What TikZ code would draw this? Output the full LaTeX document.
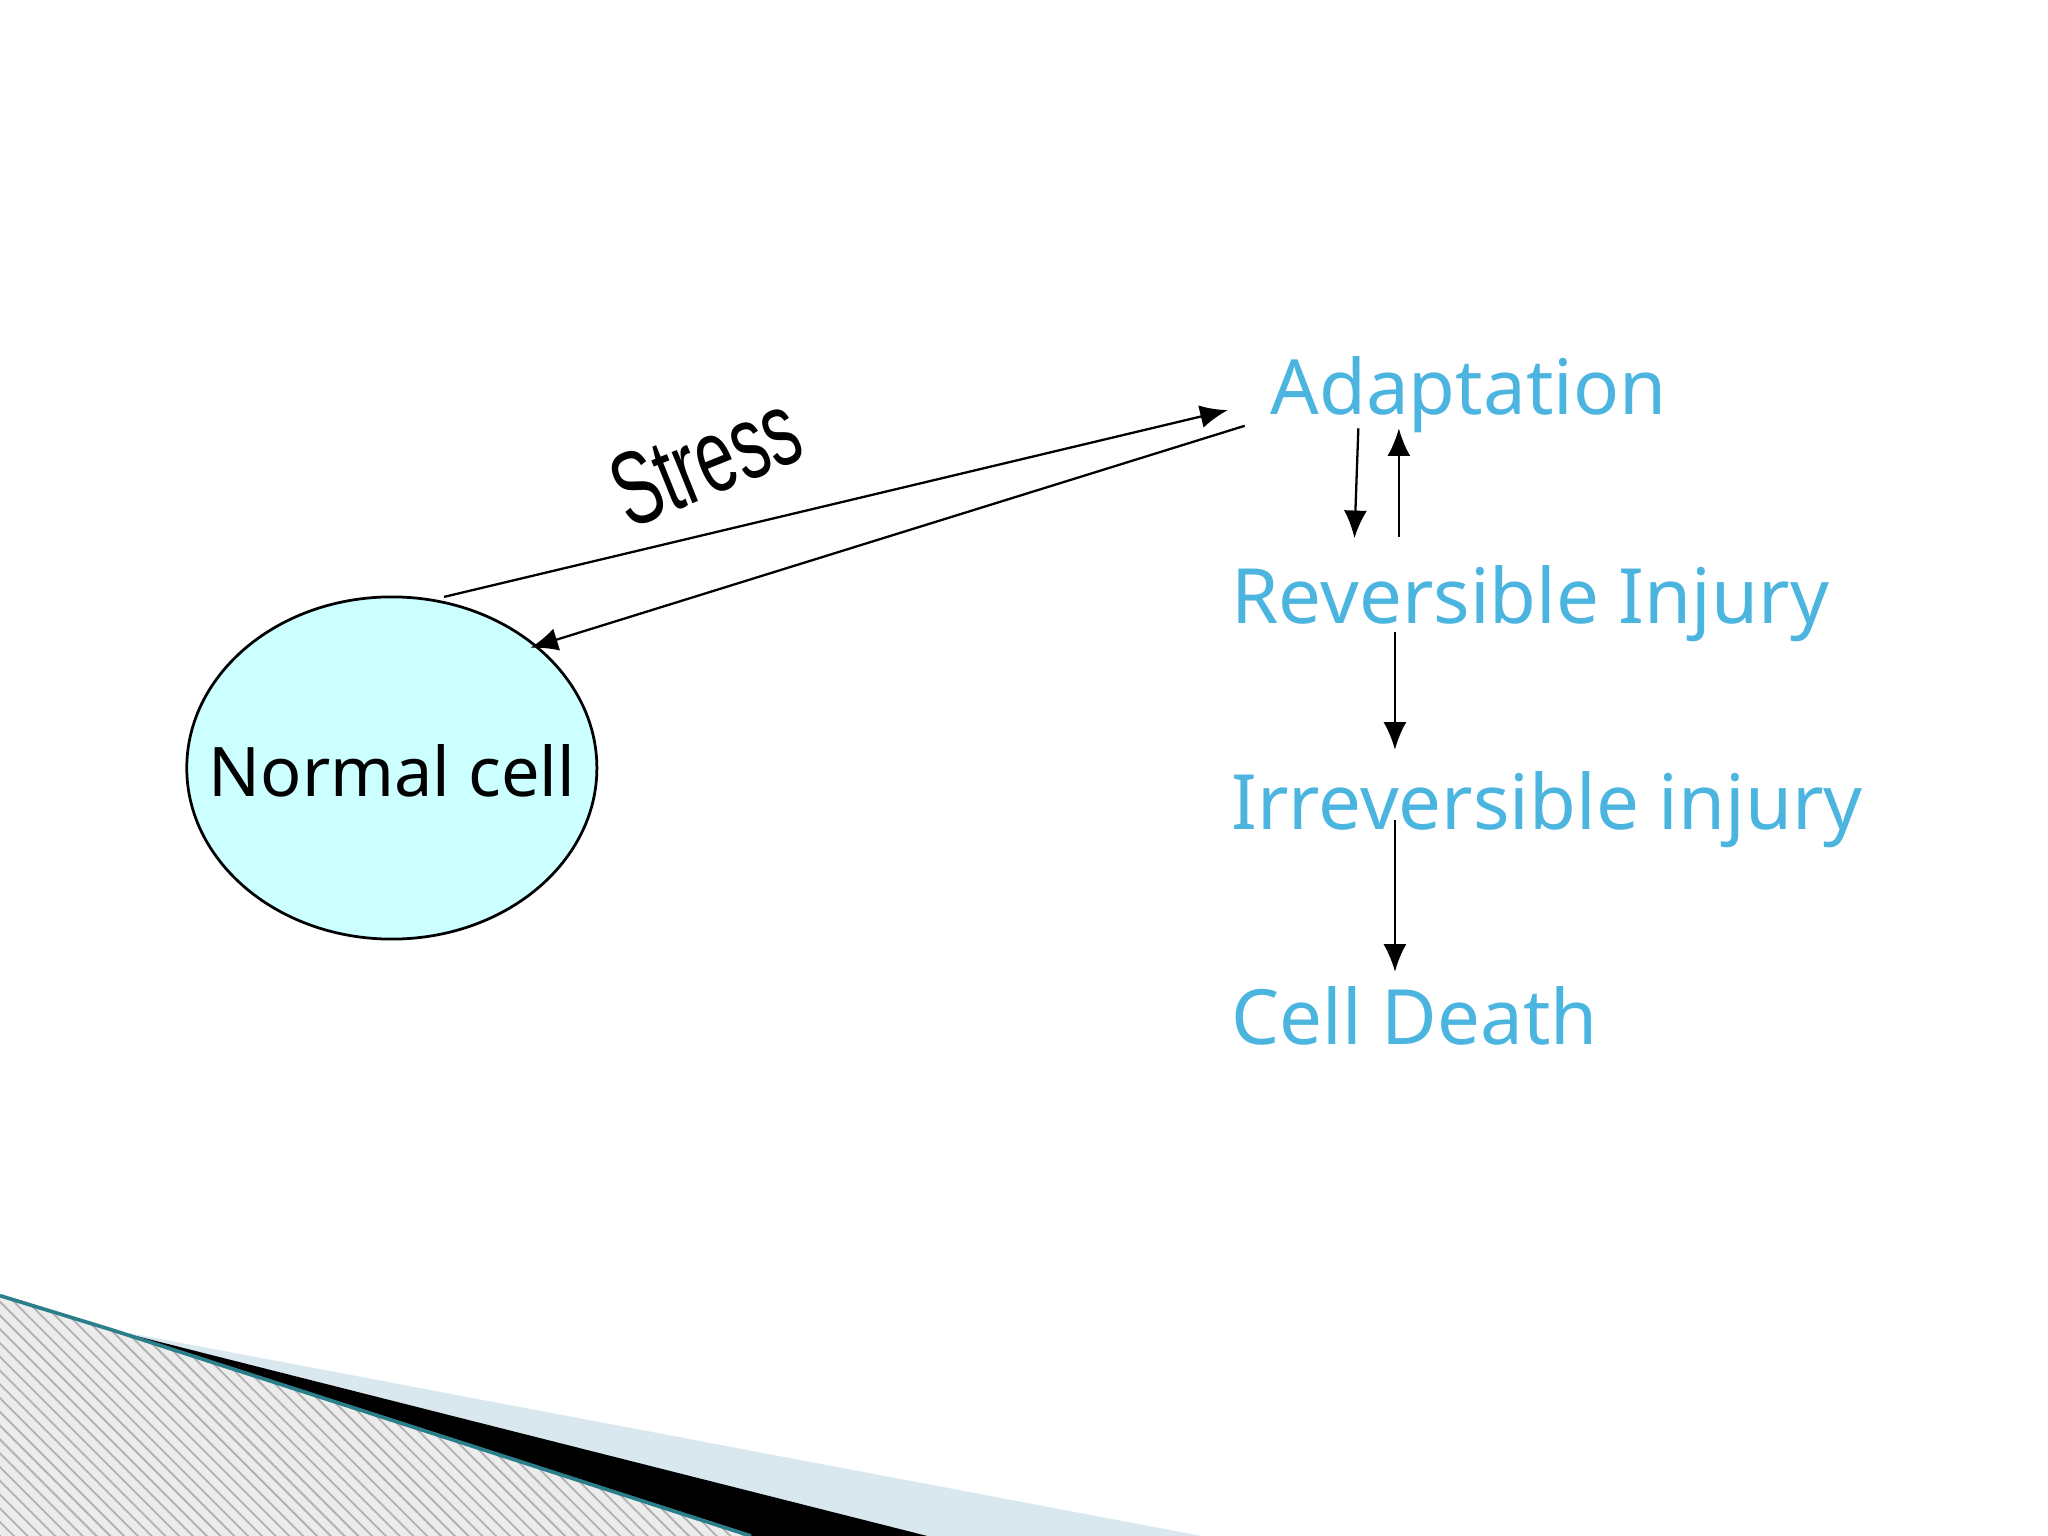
\documentclass[tikz,border=0pt]{standalone}
\usepackage{fontspec}
\setmainfont{Noto Sans}
\newfontfamily\stressfont{Liberation Sans}
\usetikzlibrary{arrows.meta,patterns}
\definecolor{lab}{HTML}{4BB5E0}
\definecolor{cellfill}{HTML}{CCFFFF}
\definecolor{wedgeblue}{HTML}{D8E8EE}
\definecolor{teal}{HTML}{2A7F8A}
\tikzset{lbl/.style={text=lab,font=\fontsize{16.6}{18}\selectfont,anchor=west,inner sep=0pt},
 arr/.style={-{Latex[length=6pt,width=5pt]},line width=0.5pt}}
\begin{document}
\begin{tikzpicture}[x=0.01cm,y=-0.01cm]
\useasboundingbox (0,0) rectangle (1568,1176);
\fill[white] (0,0) rectangle (1568,1176);
% bottom decoration
\fill[wedgeblue] (85,1018) -- (920,1176) -- (700,1176) -- cycle;
\fill[black] (85,1018) -- (710,1176) -- (575,1176) -- cycle;
\fill[gray!15] (0,992) -- (85,1018) -- (575,1176) -- (0,1176) -- cycle;
\fill[pattern=north west lines,pattern color=gray!60] (0,992) -- (85,1018) -- (575,1176) -- (0,1176) -- cycle;
\draw[teal,line width=0.8pt] (0,992) -- (85,1018) -- (575,1176);
% ellipse
\path[draw,fill=cellfill,line width=0.6pt] (300,588) ellipse [x radius=157,y radius=131];
\node (nc) at (300,590) {\fontsize{14.9}{18}\selectfont Normal cell};
\node (st) at (540,352) [rotate=22,font=\stressfont\fontsize{17.5}{20}\selectfont,xscale=0.85,yscale=1.3] {Stress};
\node[lbl] (ad) at (972,302) {Adaptation};
\node[lbl] (ri) at (942,462) {Reversible Injury};
\node[lbl] (ii) at (942,620) {Irreversible injury};
\node[lbl] (cd) at (942,778) {Cell Death};
\coordinate (s1) at (340,457); \coordinate (e1) at (940,314);
\coordinate (s2) at (953,326); \coordinate (e2) at (406,496);
\draw[arr] (s1) -- (e1);
\draw[arr] (s2) -- (e2);
\draw[arr] (1040,328) -- (1037,412);
\draw[arr] (1071,411) -- (1071,328);
\draw[arr] (1068,484) -- (1068,574);
\draw[arr] (1068,628) -- (1068,744);
\end{tikzpicture}
\end{document}
